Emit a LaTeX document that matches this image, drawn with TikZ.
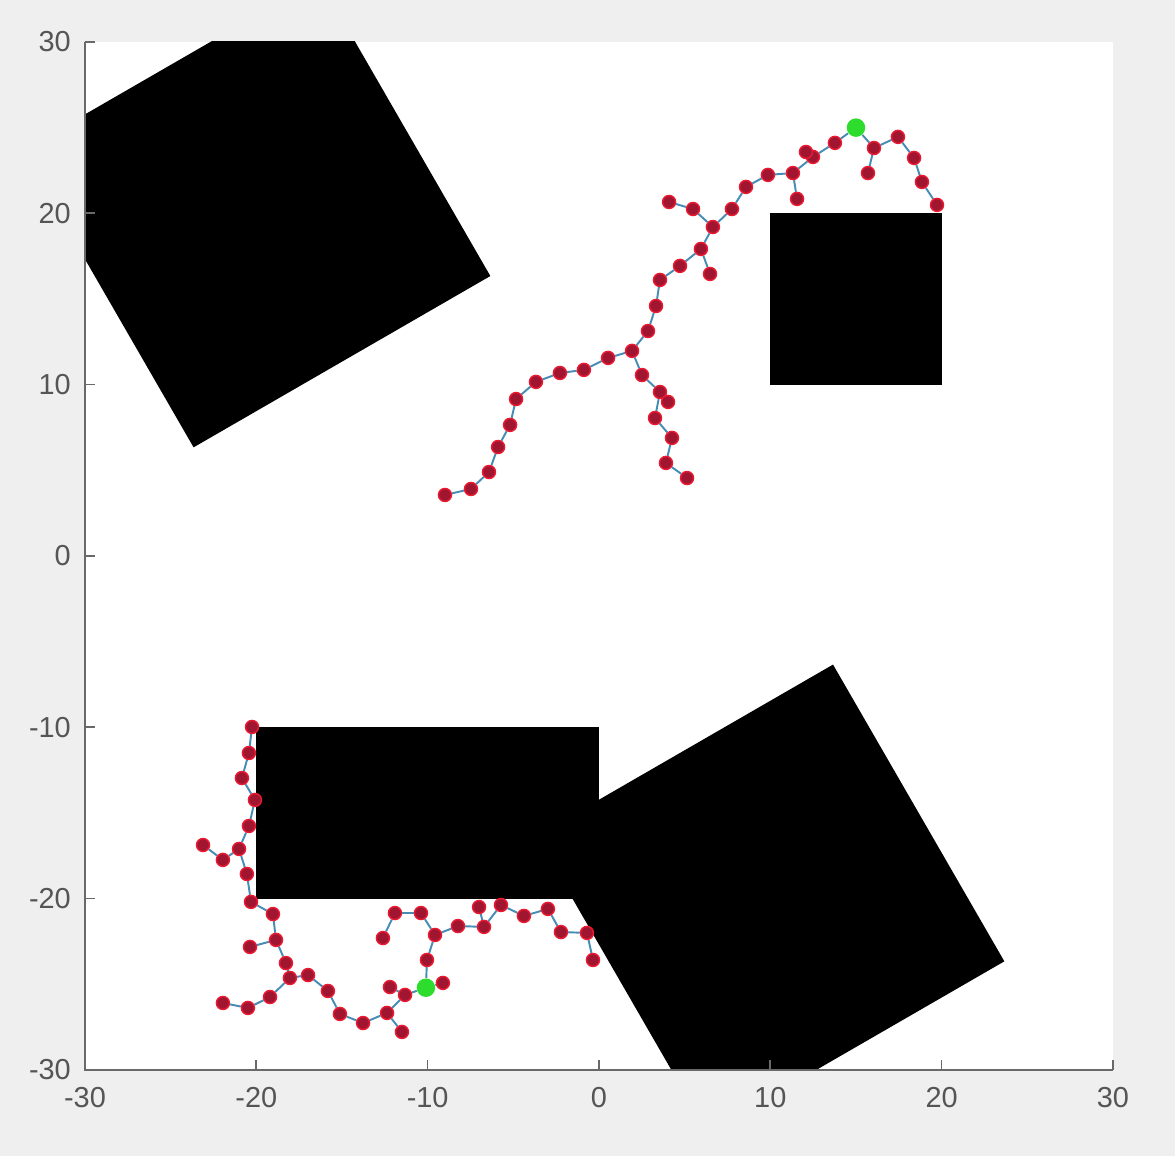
\documentclass[tikz,border=0pt]{standalone}
\usepackage{fontspec}
\setmainfont{Liberation Sans}
\usetikzlibrary{backgrounds}
\definecolor{pagegray}{RGB}{239,239,239}
\definecolor{axisgray}{RGB}{105,105,105}
\definecolor{labelgray}{RGB}{85,85,85}
\definecolor{nodefill}{RGB}{160,22,48}
\definecolor{noderim}{RGB}{235,25,50}
\definecolor{linkblue}{RGB}{70,140,180}
\definecolor{rootgreen}{RGB}{45,220,45}

\begin{document}
\begin{tikzpicture}[
  x=0.25cm, y=0.25cm,
  vertex/.style={circle, fill=nodefill, draw=noderim, line width=0.6pt,
    inner sep=0pt, minimum size=0.19cm},
  root/.style={circle, fill=rootgreen, inner sep=0pt, minimum size=0.27cm},
  link/.style={draw=linkblue, line width=0.8pt},
  obstacle/.style={fill=black},
  axisline/.style={draw=axisgray, line width=0.7pt},
  ticklabel/.style={text=labelgray, inner sep=0pt,
    font=\fontsize{12}{14}\selectfont}
]
  \useasboundingbox (-34.96,-35.02) rectangle (33.62,32.45);

  % upper tree
  \node[root] (u0) at (15,25) {};
  \foreach \n/\x/\y in {u1/13.77/24.11, u2/12.49/23.29, u3/12.08/23.58,
      u4/11.32/22.35, u5/11.56/20.84, u6/9.86/22.24, u7/8.58/21.54,
      u8/7.76/20.25, u9/6.65/19.20, u10/5.49/20.25, u11/4.09/20.66,
      u12/5.95/17.92, u13/6.48/16.46, u14/4.73/16.93, u15/3.56/16.11,
      u16/3.33/14.59, u17/2.86/13.13, u18/1.93/11.97, u19/0.53/11.56,
      u20/-0.88/10.86, u21/-2.28/10.68, u22/-3.68/10.16, u23/-4.84/9.16,
      u24/-5.19/7.65, u25/-5.89/6.36, u26/-6.42/4.90, u27/-7.47/3.91,
      u28/-8.99/3.56, u29/2.51/10.56, u30/3.56/9.57, u31/4.03/8.99,
      u32/3.27/8.05, u33/4.26/6.89, u34/3.91/5.43, u35/5.14/4.55,
      u36/16.05/23.81, u37/15.70/22.35, u38/17.45/24.46, u39/18.39/23.23,
      u40/18.85/21.83, u41/19.73/20.49}
    \node[vertex] (\n) at (\x,\y) {};

  % lower tree
  \node[root] (l0) at (-10.1,-25.2) {};
  \foreach \n/\x/\y in {l1/-9.11/-24.92, l2/-10.04/-23.58, l3/-9.57/-22.12,
      l4/-10.39/-20.84, l5/-11.91/-20.84, l6/-12.61/-22.30, l7/-8.23/-21.60,
      l8/-6.71/-21.65, l9/-7.00/-20.49, l10/-5.72/-20.37, l11/-4.38/-21.01,
      l12/-2.98/-20.60, l13/-2.22/-21.95, l14/-0.70/-22.00, l15/-0.35/-23.58,
      l16/-11.32/-25.62, l17/-12.20/-25.16, l18/-12.37/-26.67,
      l19/-11.50/-27.78, l20/-13.77/-27.26, l21/-15.12/-26.73,
      l22/-15.82/-25.39, l23/-16.98/-24.46, l24/-18.04/-24.63,
      l25/-18.27/-23.76, l26/-19.20/-25.74, l27/-20.49/-26.38,
      l28/-21.95/-26.09, l29/-18.85/-22.41, l30/-20.37/-22.82,
      l31/-19.03/-20.90, l32/-20.31/-20.19, l33/-20.55/-18.56,
      l34/-21.01/-17.10, l35/-21.95/-17.74, l36/-23.11/-16.87,
      l37/-20.43/-15.76, l38/-20.08/-14.24, l39/-20.84/-12.96,
      l40/-20.43/-11.50, l41/-20.25/-9.98}
    \node[vertex] (\n) at (\x,\y) {};

  \begin{scope}[on background layer]
    \fill[pagegray] (-34.96,-35.02) rectangle (33.62,32.45);
    \fill[white] (-30,-30) rectangle (30,30);
    \begin{scope}
      \clip (-30,-30) rectangle (30,30);
      \fill[obstacle, rotate around={30:(-20,20)}] (-30,10) rectangle (-10,30);
      \fill[obstacle, rotate around={30:(10,-20)}] (0,-30) rectangle (20,-10);
      \fill[obstacle] (10,10) rectangle (20,20);
      \fill[obstacle] (-20,-20) rectangle (0,-10);
    \end{scope}
    \foreach \a/\b in {u0/u1, u1/u2, u2/u3, u2/u4, u4/u5, u4/u6, u6/u7,
        u7/u8, u8/u9, u9/u10, u10/u11, u9/u12, u12/u13, u12/u14, u14/u15,
        u15/u16, u16/u17, u17/u18, u18/u19, u19/u20, u20/u21, u21/u22,
        u22/u23, u23/u24, u24/u25, u25/u26, u26/u27, u27/u28, u18/u29,
        u29/u30, u30/u31, u30/u32, u32/u33, u33/u34, u34/u35, u0/u36,
        u36/u37, u36/u38, u38/u39, u39/u40, u40/u41,
        l0/l1, l0/l2, l2/l3, l3/l4, l4/l5, l5/l6, l3/l7, l7/l8, l8/l9,
        l8/l10, l10/l11, l11/l12, l12/l13, l13/l14, l14/l15, l0/l16,
        l16/l17, l16/l18, l18/l19, l18/l20, l20/l21, l21/l22, l22/l23,
        l23/l24, l24/l25, l24/l26, l26/l27, l27/l28, l25/l29, l29/l30,
        l29/l31, l31/l32, l32/l33, l33/l34, l34/l35, l35/l36, l34/l37,
        l37/l38, l38/l39, l39/l40, l40/l41}
      \draw[link] (\a) -- (\b);
  \end{scope}

  % axes
  \draw[axisline] (-30,30) -- (-30,-30) -- (30,-30);
  \foreach \t [count=\i] in {-30,-20,...,30} {
    \draw[axisline] (\t,-30) -- ++(0,0.6);
    \draw[axisline] (-30,\t) -- ++(0.6,0);
    \node[ticklabel] (xt\i) at (\t,-31.6) {\t};
    \node[ticklabel, anchor=east] (yt\i) at (-30.8,\t) {\t};
  }
\end{tikzpicture}
\end{document}
